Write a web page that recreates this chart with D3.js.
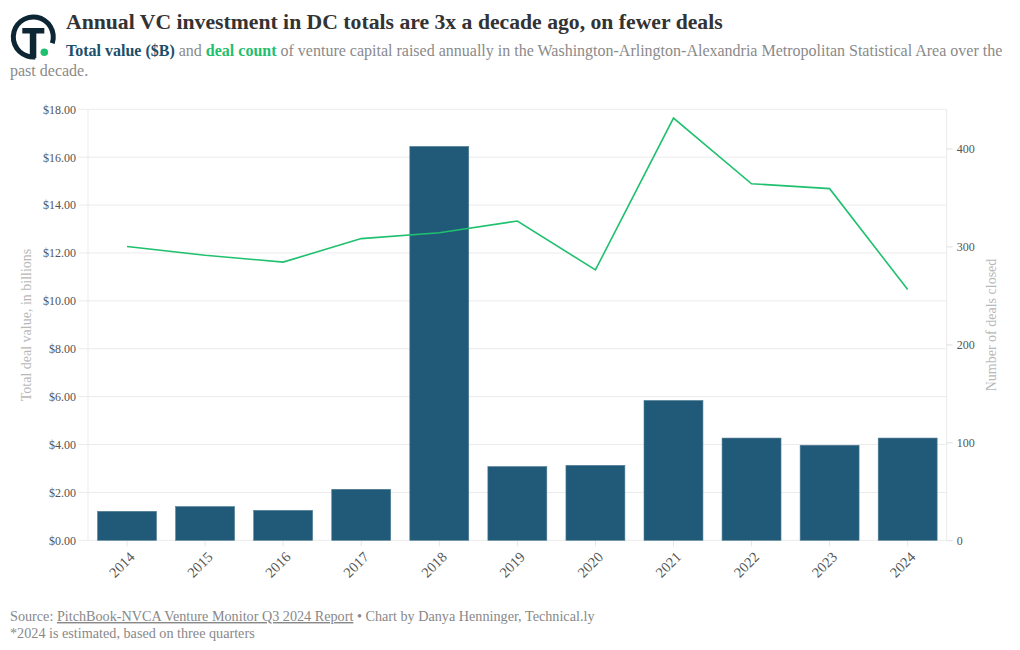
<!DOCTYPE html>
<html><head><meta charset="utf-8">
<script src="https://cdn.jsdelivr.net/npm/d3@7"></script>
<style>
html,body{margin:0;padding:0;background:#fff;}
svg{display:block;}
text{font-family:"Liberation Serif","DejaVu Serif",serif;}
</style></head>
<body>
<svg id="chart" width="1020" height="650"></svg>
<script>
const years = ["2014","2015","2016","2017","2018","2019","2020","2021","2022","2023","2024"];
const totalValue = [1.21, 1.41, 1.25, 2.13, 16.45, 3.08, 3.13, 5.84, 4.27, 3.97, 4.27];
const dealCount = [300, 291, 284, 308, 314, 326, 276, 431, 364, 359, 256];
const leftTicks = [0,2,4,6,8,10,12,14,16,18];
const rightTicks = [0,100,200,300,400];

const svg = d3.select("#chart");
const M = {left:88, right:946.7, top:109.3, bottom:540.3};

const x = d3.scaleBand().domain(years).range([M.left, M.right]).paddingInner(0.245).paddingOuter(0.1225);
const yL = d3.scaleLinear().domain([0,18]).range([M.bottom, M.top]);
const yR = d3.scaleLinear().domain([0,440]).range([M.bottom, M.top]);

// gridlines
svg.append("g").selectAll("line").data(leftTicks).join("line")
  .attr("x1", M.left-10).attr("x2", M.right)
  .attr("y1", d=>yL(d)).attr("y2", d=>yL(d))
  .attr("stroke","#ebebeb").attr("stroke-width",1);
// frame verticals
svg.append("line").attr("x1",M.left).attr("x2",M.left).attr("y1",M.top).attr("y2",M.bottom).attr("stroke","#ebebeb");
svg.append("line").attr("x1",M.right).attr("x2",M.right).attr("y1",M.top).attr("y2",M.bottom).attr("stroke","#ebebeb");

// left axis
const gL = svg.append("g").attr("transform",`translate(${M.left-10},0)`)
  .call(d3.axisLeft(yL).tickValues(leftTicks).tickSize(0).tickPadding(2).tickFormat(d=>"$"+d3.format(".2f")(d)));
gL.select(".domain").remove();
gL.selectAll("text").attr("font-size",12).attr("fill","#555").style("font-family","Liberation Serif");

// right axis
const gR = svg.append("g").attr("transform",`translate(${M.right},0)`)
  .call(d3.axisRight(yR).tickValues(rightTicks).tickSize(6).tickPadding(4));
gR.select(".domain").remove();
gR.selectAll(".tick line").attr("stroke","#e0e0e0");
gR.selectAll("text").attr("font-size",12).attr("fill","#555").style("font-family","Liberation Serif");

// x axis
const gX = svg.append("g").attr("transform",`translate(0,${M.bottom})`)
  .call(d3.axisBottom(x).tickSize(6).tickPadding(3));
gX.select(".domain").remove();
gX.selectAll(".tick line").attr("stroke","#e6e6e6");
gX.selectAll("text").attr("font-size",14.5).attr("fill","#555").style("font-family","Liberation Serif")
  .attr("text-anchor","end").attr("dy","0.35em")
  .attr("transform","translate(5,14) rotate(-45)").attr("y",0).attr("x",0);

// bars
svg.append("g").selectAll("rect").data(years).join("rect")
  .attr("x", d=>x(d)).attr("width", x.bandwidth())
  .attr("y", (d,i)=>yL(totalValue[i])).attr("height",(d,i)=>yL(0)-yL(totalValue[i]))
  .attr("fill","#215a78").attr("stroke","#4f7d95").attr("stroke-width",0.6);

// line
const line = d3.line().x((d,i)=>x(years[i])+x.bandwidth()/2).y(d=>yR(d));
svg.append("path").datum(dealCount).attr("d",line)
  .attr("fill","none").attr("stroke","#1fc06e").attr("stroke-width",1.6);

// axis titles
svg.append("text").attr("transform","translate(31,325) rotate(-90)").attr("text-anchor","middle")
  .attr("font-size",14).attr("fill","#b8b8b8").text("Total deal value, in billions");
svg.append("text").attr("transform","translate(996,325) rotate(-90)").attr("text-anchor","middle")
  .attr("font-size",14).attr("fill","#b8b8b8").text("Number of deals closed");

// logo
const logo = svg.append("g").attr("transform","translate(33.3,37)");
const arc = d3.arc().innerRadius(17.5).outerRadius(22.5).startAngle(Math.PI*0.97).endAngle(Math.PI*2.6);
logo.append("path").attr("d",arc()).attr("fill","#0d2634");
logo.append("rect").attr("x",-11).attr("y",-9).attr("width",22).attr("height",5.5).attr("fill","#0d2634");
logo.append("rect").attr("x",-3.5).attr("y",-9).attr("width",6.5).attr("height",30).attr("fill","#0d2634");
logo.append("circle").attr("cx",11).attr("cy",15.3).attr("r",3.8).attr("fill","#1fc06e");

// title
svg.append("text").attr("x",66).attr("y",29).attr("font-size",21.7).attr("font-weight","bold").attr("fill","#333")
  .text("Annual VC investment in DC totals are 3x a decade ago, on fewer deals");
const sub = svg.append("text").attr("x",66).attr("y",56).attr("font-size",16).attr("fill","#8a8a8a");
sub.append("tspan").attr("font-weight","bold").attr("fill","#1c4f6b").text("Total value ($B)");
sub.append("tspan").text(" and ");
sub.append("tspan").attr("font-weight","bold").attr("fill","#1fc06e").text("deal count");
sub.append("tspan").text(" of venture capital raised annually in the Washington-Arlington-Alexandria Metropolitan Statistical Area over the");
svg.append("text").attr("x",10).attr("y",76).attr("font-size",16).attr("fill","#8a8a8a").text("past decade.");

// footer
const f1 = svg.append("text").attr("x",10).attr("y",621).attr("font-size",14.2).attr("fill","#888");
f1.append("tspan").text("Source: ");
f1.append("tspan").attr("text-decoration","underline").text("PitchBook-NVCA Venture Monitor Q3 2024 Report");
f1.append("tspan").text(" • Chart by Danya Henninger, Technical.ly");
svg.append("text").attr("x",10).attr("y",638).attr("font-size",14.2).attr("fill","#888")
  .text("*2024 is estimated, based on three quarters");
</script>
</body></html>
